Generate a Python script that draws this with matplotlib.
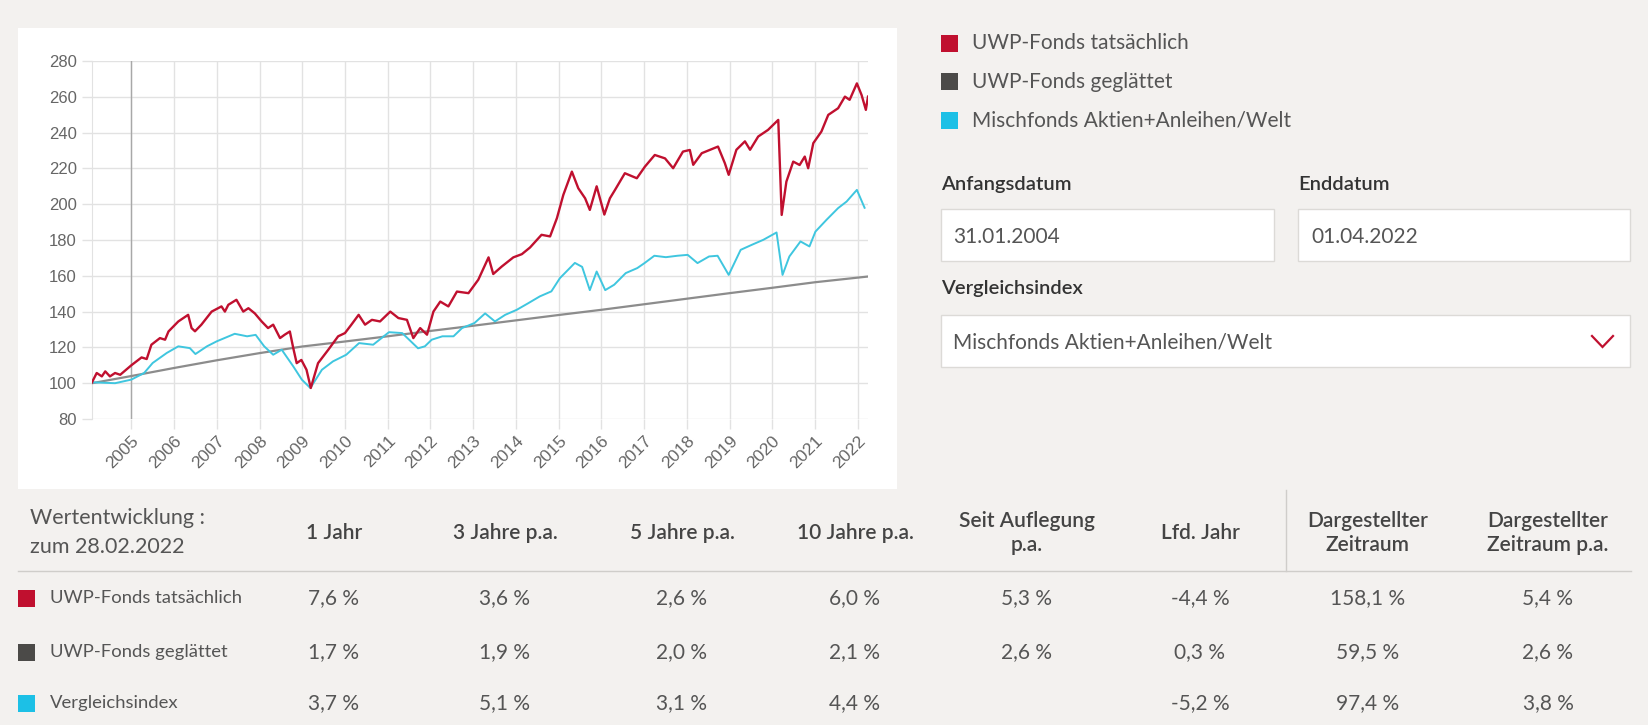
import matplotlib.pyplot as plt
from matplotlib.patches import Rectangle

W, H = 1648, 725
BG = "#f3f1ef"
RED = "#c0102f"
DARK = "#4b4a48"
CYAN = "#1cc0e6"
LINE_CYAN = "#3fc6df"
GRAYLINE = "#8c8c8c"
UI_FONT = "Lato"

# ---- chart data (decimal years, index value) ----
red_t = [
    2004.08, 2004.19, 2004.31, 2004.39, 2004.50, 2004.62, 2004.74,
    2005.00, 2005.24, 2005.36, 2005.47, 2005.67, 2005.79, 2005.87,
    2006.10, 2006.33, 2006.41, 2006.49, 2006.64, 2006.88,
    2007.11, 2007.19, 2007.27, 2007.46, 2007.62, 2007.74, 2007.89,
    2008.05, 2008.20, 2008.32, 2008.48, 2008.59, 2008.71, 2008.79, 2008.87, 2008.98,
    2009.10, 2009.20, 2009.37, 2009.61, 2009.84,
    2010.00, 2010.15, 2010.32, 2010.47, 2010.63, 2010.82,
    2011.06, 2011.25, 2011.45, 2011.60, 2011.76, 2011.92,
    2012.07, 2012.23, 2012.42, 2012.62, 2012.89,
    2013.12, 2013.36, 2013.47, 2013.67, 2013.94,
    2014.14, 2014.33, 2014.60, 2014.80, 2014.96,
    2015.11, 2015.31, 2015.46, 2015.62, 2015.73, 2015.89,
    2016.07, 2016.20, 2016.32, 2016.55, 2016.83,
    2017.02, 2017.25, 2017.49, 2017.68, 2017.91,
    2018.07, 2018.15, 2018.35, 2018.73, 2018.89, 2018.98,
    2019.16, 2019.36, 2019.48, 2019.67, 2019.90,
    2020.14, 2020.22, 2020.33, 2020.49, 2020.64, 2020.76, 2020.84, 2020.96,
    2021.15, 2021.31, 2021.54, 2021.70, 2021.81, 2021.98,
    2022.09, 2022.19, 2022.24,
]
red_v = [
    100.5, 105.7, 103.8, 106.6, 103.8, 105.7, 104.7,
    110.0, 114.4, 113.5, 121.5, 125.2, 124.3, 128.9,
    134.5, 138.2, 130.8, 129.0, 132.7, 140.0,
    142.9, 140.0, 143.8, 146.6, 140.0, 141.9, 139.0,
    134.5, 130.8, 132.7, 125.2, 127.1, 128.9, 119.6, 111.2, 113.0,
    107.5, 97.3, 111.2, 118.7, 126.2,
    128.0, 132.7, 138.2, 132.7, 135.4, 134.5,
    140.0, 136.4, 135.4, 125.2, 130.8, 127.1,
    140.0, 145.6, 142.9, 151.2, 150.3,
    157.8, 170.3, 161.0, 165.2, 170.3,
    172.1, 175.8, 182.9, 182.0, 192.2,
    205.2, 218.2, 208.9, 203.3, 196.8, 210.0,
    194.2, 203.3, 208.0, 217.3, 214.5,
    221.0, 227.5, 225.6, 220.1, 229.4,
    230.3, 222.0, 228.5, 232.2, 222.9, 216.4,
    230.4, 235.1, 230.4, 237.8, 241.5,
    247.1, 194.0, 212.6, 223.8, 221.9, 226.6, 220.1, 234.1,
    240.6, 249.9, 253.6, 260.1, 258.3, 267.5,
    261.0, 252.7, 260.1,
]

cyan_t = [
    2004.08, 2004.62,
    2005.00, 2005.30, 2005.50, 2005.83,
    2006.10, 2006.37, 2006.50, 2006.77,
    2007.00, 2007.42, 2007.71, 2007.91,
    2008.11, 2008.32, 2008.52, 2008.79, 2008.99,
    2009.19, 2009.46, 2009.72,
    2010.03, 2010.33, 2010.66,
    2011.03, 2011.34, 2011.71, 2011.87,
    2012.03, 2012.28, 2012.54, 2012.74,
    2013.03, 2013.28, 2013.51, 2013.75,
    2014.02, 2014.29, 2014.56, 2014.83,
    2015.03, 2015.38, 2015.55, 2015.73, 2015.89,
    2016.09, 2016.30, 2016.57, 2016.84,
    2017.01, 2017.24, 2017.51, 2017.78,
    2018.02, 2018.25, 2018.52, 2018.72, 2018.98,
    2019.26, 2019.52, 2019.79,
    2020.10, 2020.24, 2020.40, 2020.66, 2020.87,
    2021.01, 2021.27, 2021.54, 2021.74, 2021.98,
    2022.16,
]
cyan_v = [
    100.5, 100.0,
    102.0, 105.7, 111.3, 116.9,
    120.6, 119.6, 116.3, 120.6,
    123.4, 127.6, 126.2, 127.0,
    120.6, 115.9, 118.7, 109.4, 102.0,
    97.3, 107.5, 112.2,
    115.9, 122.4, 121.5,
    128.5, 128.0, 119.5, 120.6,
    124.3, 126.2, 126.2, 130.8,
    133.6, 139.0, 134.5, 138.2,
    141.0, 144.7, 148.5, 151.3,
    158.7, 167.2, 165.0, 152.0, 162.4,
    152.0, 155.0, 161.5, 164.3,
    167.1, 171.2, 170.4, 171.2,
    171.7, 167.1, 170.8, 171.2, 160.5,
    174.5, 177.3, 180.1,
    184.2, 160.5, 170.8, 179.2, 176.4,
    184.7, 191.3, 197.8, 201.5, 208.0,
    198.0,
]

gray_t = [2004.08, 2005, 2006, 2007, 2008, 2009, 2010, 2011, 2012, 2013,
          2014, 2015, 2016, 2017, 2018, 2019, 2020, 2021, 2022.24]
gray_v = [100.0, 104.0, 108.5, 112.8, 116.8, 120.5, 123.3, 126.2, 129.2, 132.1,
          135.1, 138.1, 141.0, 144.1, 147.2, 150.3, 153.3, 156.4, 159.6]

years = list(range(2005, 2023))
y_ticks = list(range(80, 281, 20))

# ---- legend / form / table data ----
series_names = ["UWP-Fonds tatsächlich", "UWP-Fonds geglättet", "Mischfonds Aktien+Anleihen/Welt"]
series_colors = [RED, DARK, CYAN]
start_date = "31.01.2004"
end_date = "01.04.2022"
index_name = "Mischfonds Aktien+Anleihen/Welt"

col_headers = ["1 Jahr", "3 Jahre p.a.", "5 Jahre p.a.", "10 Jahre p.a.",
               "Seit Auflegung\np.a.", "Lfd. Jahr", "Dargestellter\nZeitraum",
               "Dargestellter\nZeitraum p.a."]
row_labels = ["UWP-Fonds tatsächlich", "UWP-Fonds geglättet", "Vergleichsindex"]
table_vals = [
    ["7,6 %", "3,6 %", "2,6 %", "6,0 %", "5,3 %", "-4,4 %", "158,1 %", "5,4 %"],
    ["1,7 %", "1,9 %", "2,0 %", "2,1 %", "2,6 %", "0,3 %", "59,5 %", "2,6 %"],
    ["3,7 %", "5,1 %", "3,1 %", "4,4 %", "", "-5,2 %", "97,4 %", "3,8 %"],
]


def px_rect(x0, y0, x1, y1):
    return [x0 / W, 1 - y1 / H, (x1 - x0) / W, (y1 - y0) / H]


fig = plt.figure(figsize=(W / 100, H / 100), dpi=100, facecolor=BG)

# page layer in pixel coordinates
ui = fig.add_axes([0, 0, 1, 1], zorder=0)
ui.set_xlim(0, W)
ui.set_ylim(H, 0)
ui.axis("off")
ui.add_patch(Rectangle((18, 28), 879, 461, facecolor="white", edgecolor="none"))

# ---- chart ----
ax = fig.add_axes(px_rect(92, 61, 868, 419), zorder=1)
ax.set_facecolor("white")
ax.plot(gray_t, gray_v, color=GRAYLINE, lw=1.6, zorder=3)
ax.plot(cyan_t, cyan_v, color=LINE_CYAN, lw=1.4, zorder=4)
ax.plot(red_t, red_v, color=RED, lw=1.7, zorder=5)
ax.set_xlim(2004.08, 2022.24)
ax.set_ylim(80, 280)
ax.set_xticks(years)
ax.set_xticklabels([str(y) for y in years], rotation=45, ha="right",
                   rotation_mode="anchor", fontsize=12.5, color="#666",
                   family="Liberation Sans")
ax.set_yticks(y_ticks)
ax.set_yticklabels([str(v) for v in y_ticks], fontsize=12, color="#666",
                   family="Liberation Sans")
ax.tick_params(axis="both", length=7, color="#e2e2e2", width=1)
ax.tick_params(axis="y", pad=4)
ax.tick_params(axis="x", pad=3)
ax.grid(True, color="#e2e2e2", lw=1)
ax.axvline(2005, color="#a8a8a8", lw=1, zorder=2)
for side in ["top", "right", "bottom"]:
    ax.spines[side].set_visible(False)
ax.spines["left"].set_color("#e2e2e2")

# ---- legend ----
for i, (name, col) in enumerate(zip(series_names, series_colors)):
    yc = 43 + i * 38.5
    ui.add_patch(Rectangle((941, yc - 8.5), 17, 17, facecolor=col, edgecolor="none"))
    ui.text(972, yc, name, fontsize=15, color="#555", va="center", family=UI_FONT)

# ---- date / index form ----
label_kw = dict(fontsize=14.5, color="#333", va="center", weight="semibold", family=UI_FONT)
ui.text(941, 184, "Anfangsdatum", **label_kw)
ui.text(1298, 184, "Enddatum", **label_kw)
ui.text(941, 288, "Vergleichsindex", **label_kw)

box_kw = dict(facecolor="white", edgecolor="#dcdad7", lw=1)
ui.add_patch(Rectangle((941, 209), 333, 52, **box_kw))
ui.add_patch(Rectangle((1298, 209), 332, 52, **box_kw))
ui.add_patch(Rectangle((941, 315), 689, 52, **box_kw))
input_kw = dict(fontsize=15, color="#555", va="center", family=UI_FONT)
ui.text(953, 237, start_date, **input_kw)
ui.text(1311, 237, end_date, **input_kw)
ui.text(953, 342, index_name, **input_kw)
ui.plot([1592, 1602.5, 1613], [336, 347, 336], color=RED, lw=1.6,
        solid_joinstyle="miter")

# ---- performance table ----
col_x = [334, 505, 682, 855, 1027, 1200, 1368, 1548]
ui.text(30, 518, "Wertentwicklung :", fontsize=15.5, color="#555", va="center", family=UI_FONT)
ui.text(30, 547, "zum 28.02.2022", fontsize=15.5, color="#555", va="center", family=UI_FONT)
for x, head in zip(col_x, col_headers):
    ui.text(x, 533, head, fontsize=15, color="#444", weight="semibold",
            ha="center", va="center", linespacing=1.3, family=UI_FONT)
ui.plot([18, 1631], [571, 571], color="#cfcdca", lw=1)
ui.plot([1286, 1286], [490, 571], color="#cfcdca", lw=1)

row_y = [598, 652, 703]
for yr, lab, col, vals in zip(row_y, row_labels, series_colors, table_vals):
    ui.add_patch(Rectangle((18, yr - 8.5), 17, 17, facecolor=col, edgecolor="none"))
    ui.text(50, yr, lab, fontsize=13.3, color="#555", va="center", family=UI_FONT)
    for x, v in zip(col_x, vals):
        ui.text(x, yr, v, fontsize=15, color="#555", ha="center", va="center", family=UI_FONT)

fig.savefig("out.png", dpi=100, facecolor=BG)
